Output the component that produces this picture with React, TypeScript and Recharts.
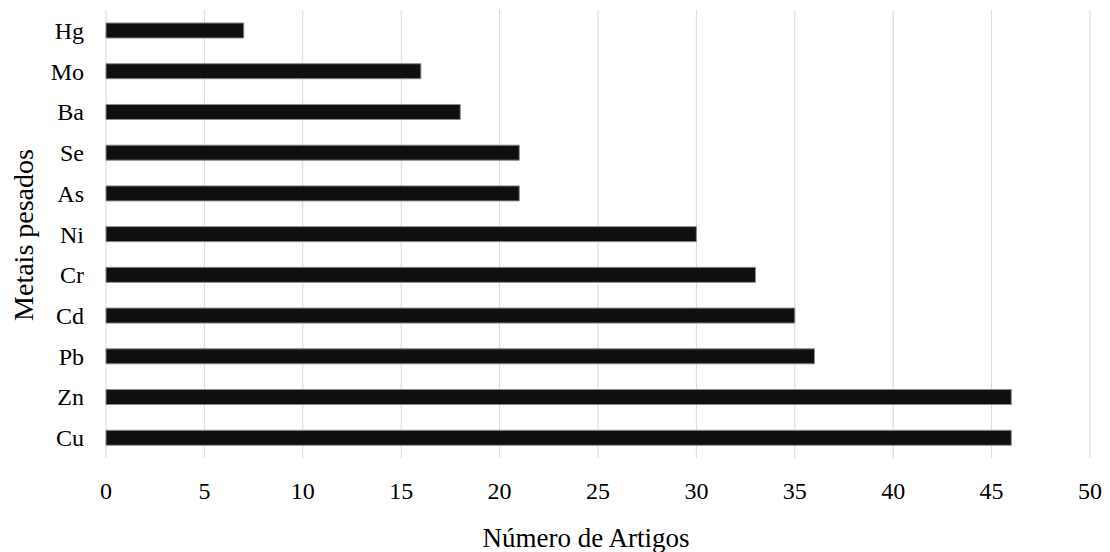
import React from 'react';
import { BarChart, Bar, XAxis, YAxis, CartesianGrid, Label } from 'recharts';

// Heavy metals, listed top to bottom
const metals = ['Hg', 'Mo', 'Ba', 'Se', 'As', 'Ni', 'Cr', 'Cd', 'Pb', 'Zn', 'Cu'];
// Number of articles per metal
const articleCounts = [7, 16, 18, 21, 21, 30, 33, 35, 36, 46, 46];
// X axis ticks
const xTicks = [0, 5, 10, 15, 20, 25, 30, 35, 40, 45, 50];

const data = metals.map((metal, i) => ({ metal, count: articleCounts[i] }));

const FONT = '"Liberation Serif", "Times New Roman", serif';

export default function App() {
  return (
    <div style={{ position: 'absolute', left: 0, top: 0, background: '#fff' }}>
      <BarChart
        width={1110}
        height={552}
        data={data}
        layout="vertical"
        margin={{ top: 10, right: 20, bottom: 0, left: 0 }}
        barCategoryGap={0}
      >
        <CartesianGrid horizontal={false} stroke="#d9d9d9" strokeWidth={1} />
        <XAxis
          type="number"
          domain={[0, 50]}
          ticks={xTicks}
          axisLine={false}
          tickLine={false}
          tickMargin={18}
          height={94}
          tick={{ fill: '#000', fontSize: 24, fontFamily: FONT }}
        >
          <Label
            value="Número de Artigos"
            position="insideBottom"
            offset={5}
            dx={-12}
            style={{ fill: '#000', fontSize: 27, fontFamily: FONT }}
          />
        </XAxis>
        <YAxis
          type="category"
          dataKey="metal"
          width={106}
          axisLine={false}
          tickLine={false}
          tickMargin={16}
          interval={0}
          tick={{ fill: '#000', fontSize: 24, fontFamily: FONT }}
        >
          <Label
            content={() => (
              <text
                x={33}
                y={235}
                transform="rotate(-90 33 235)"
                textAnchor="middle"
                fill="#000"
                fontSize={28}
                fontFamily={FONT}
              >
                Metais pesados
              </text>
            )}
          />
        </YAxis>
        <Bar
          dataKey="count"
          fill="#0f0f0f"
          stroke="#8a8a8a"
          strokeWidth={1}
          barSize={15}
          isAnimationActive={false}
        />
      </BarChart>
    </div>
  );
}
